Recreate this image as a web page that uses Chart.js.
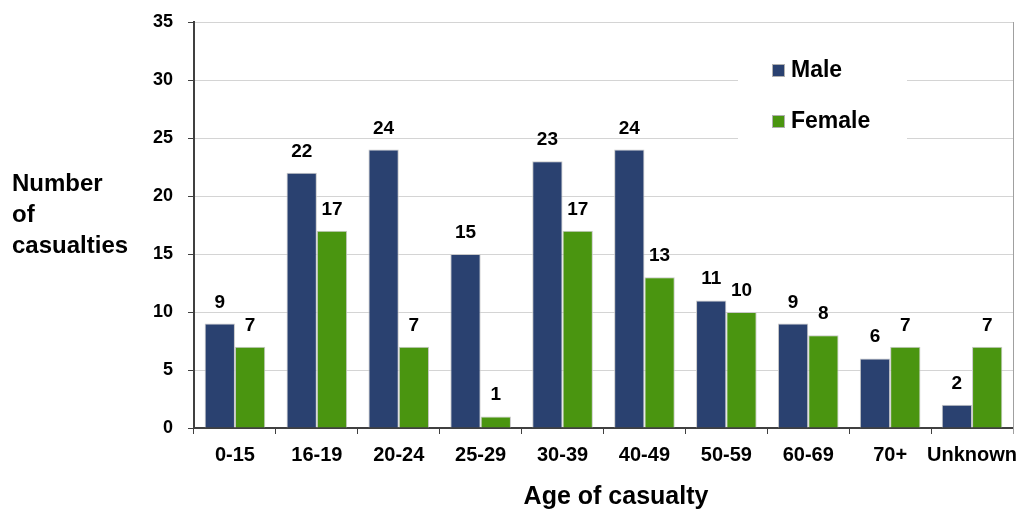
<!DOCTYPE html>
<html>
<head>
<meta charset="utf-8">
<script src="https://cdn.jsdelivr.net/npm/chart.js@4/dist/chart.umd.min.js"></script>
<style>
  html, body { margin: 0; padding: 0; background: #fff; }
  #wrap { width: 1022px; height: 511px; position: relative; }
</style>
</head>
<body>
<div id="wrap"><canvas id="chart"></canvas></div>
<script>
// Data
const ageGroups = ['0-15', '16-19', '20-24', '25-29', '30-39', '40-49', '50-59', '60-69', '70+', 'Unknown'];
const maleCounts = [9, 22, 24, 15, 23, 24, 11, 9, 6, 2];
const femaleCounts = [7, 17, 7, 1, 17, 13, 10, 8, 7, 7];
const yTitleLines = ['Number', 'of', 'casualties'];
const xTitle = 'Age of casualty';

const FONT = '"Liberation Sans", Arial, sans-serif';
const MALE = '#2a4170';
const FEMALE = '#4a9510';

// value labels above each bar
const barLabels = {
    id: 'barLabels',
    afterDatasetsDraw(chart) {
        const ctx = chart.ctx;
        ctx.save();
        ctx.font = 'bold 19px ' + FONT;
        ctx.fillStyle = '#000';
        ctx.textAlign = 'center';
        ctx.textBaseline = 'alphabetic';
        chart.data.datasets.forEach((ds, i) => {
            chart.getDatasetMeta(i).data.forEach((bar, j) => {
                ctx.fillText(ds.data[j], bar.x, bar.y - 16);
            });
        });
        ctx.restore();
    }
};

// axis titles, right frame line and in-plot legend
const extras = {
    id: 'extras',
    beforeDatasetsDraw(chart) {
        const ctx = chart.ctx;
        const a = chart.chartArea;
        ctx.save();
        // right border
        ctx.strokeStyle = '#a0a0a0';
        ctx.lineWidth = 1;
        ctx.beginPath();
        ctx.moveTo(a.right + 0.5, a.top);
        ctx.lineTo(a.right + 0.5, a.bottom + 6);
        ctx.stroke();
        // legend box
        ctx.fillStyle = '#fff';
        ctx.fillRect(738, 40, 169, 100);
        ctx.font = 'bold 23px ' + FONT;
        ctx.textBaseline = 'middle';
        chart.data.datasets.forEach((ds, i) => {
            const y = 70 + i * 51;
            ctx.fillStyle = ds.backgroundColor;
            ctx.fillRect(772, y - 6, 13, 13);
            ctx.strokeStyle = '#b0b0b0';
            ctx.strokeRect(772.5, y - 5.5, 12, 12);
            ctx.fillStyle = '#000';
            ctx.fillText(ds.label, 791, y + 1);
        });
        // y title
        ctx.font = 'bold 24px ' + FONT;
        ctx.textAlign = 'left';
        yTitleLines.forEach((t, i) => ctx.fillText(t, 12, 184 + i * 31));
        // x title
        ctx.font = 'bold 25px ' + FONT;
        ctx.textAlign = 'center';
        ctx.fillText(xTitle, 616, 497);
        ctx.restore();
    }
};

new Chart(document.getElementById('chart'), {
    type: 'bar',
    data: {
        labels: ageGroups,
        datasets: [
            { label: 'Male', data: maleCounts, backgroundColor: MALE, borderColor: '#c8c8c8', borderWidth: 1 },
            { label: 'Female', data: femaleCounts, backgroundColor: FEMALE, borderColor: '#c8c8c8', borderWidth: 1 }
        ]
    },
    options: {
        responsive: true,
        maintainAspectRatio: false,
        animation: false,
        layout: { padding: { left: 0, right: 9, top: 22, bottom: 0 } },
        datasets: { bar: { categoryPercentage: 0.74, barPercentage: 1 } },
        plugins: {
            legend: { display: false },
            tooltip: { enabled: false }
        },
        scales: {
            x: {
                grid: { offset: true, drawOnChartArea: false, tickLength: 6, tickColor: '#404040' },
                border: { color: '#404040', width: 2 },
                ticks: {
                    color: '#000', font: { family: FONT, size: 20, weight: 'bold' }, padding: 9,
                    maxRotation: 0, minRotation: 0, autoSkip: false
                },
                afterFit: s => { s.height = 83; s.paddingLeft = 0; s.paddingRight = 0; }
            },
            y: {
                min: 0, max: 35,
                ticks: { stepSize: 5, color: '#000', font: { family: FONT, size: 18, weight: 'bold' }, padding: 15 },
                grid: { color: '#d4d4d4', tickColor: '#404040', tickLength: 6 },
                border: { color: '#404040', width: 2 },
                afterFit: s => { s.width = 194; s.paddingTop = 0; s.paddingBottom = 0; }
            }
        }
    },
    plugins: [barLabels, extras]
});
</script>
</body>
</html>
